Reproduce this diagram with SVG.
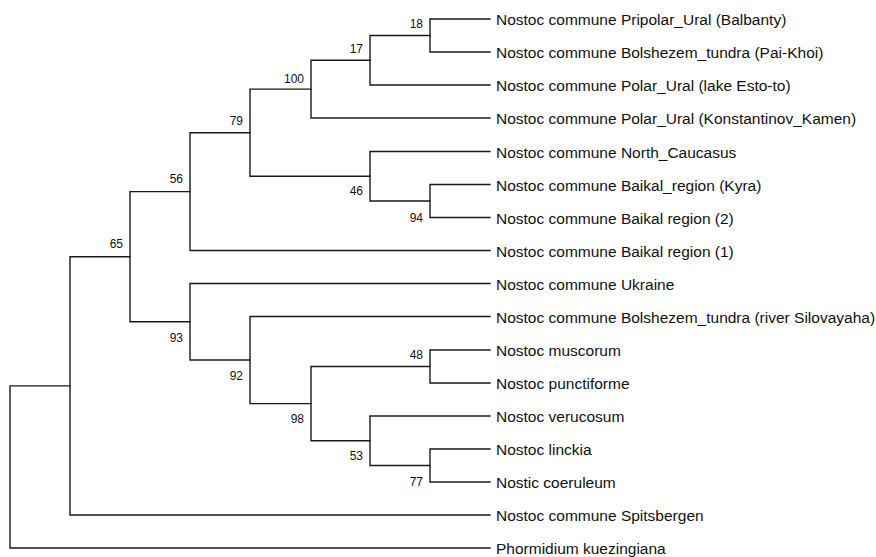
<svg xmlns="http://www.w3.org/2000/svg" width="876" height="557" viewBox="0 0 876 557">
<style>
.br{fill:none;stroke:#1a1a1a;stroke-width:1.4;stroke-linecap:square}
.leaf{font-family:"Liberation Sans",Arial,sans-serif;font-size:15.5px;fill:#111}
.bs{font-family:"Liberation Sans",Arial,sans-serif;font-size:12px;fill:#111;text-anchor:end}
</style>
<rect width="876" height="557" fill="#fff"/>
<g id="connectors">
<path class="br" d="M10,385.9V548M10,385.9H70M10,548H490"/>
<path class="br" d="M70,256.7V515M70,256.7H130M70,515H490"/>
<path class="br" d="M130,191.6V321.8M130,191.6H190M130,321.8H190"/>
<path class="br" d="M190,132.7V250.5M190,132.7H250M190,250.5H490"/>
<path class="br" d="M250,89.1V176.25M250,89.1H311M250,176.25H370"/>
<path class="br" d="M311,60.25V118M311,60.25H370M311,118H490"/>
<path class="br" d="M370,35.5V85M370,35.5H430M370,85H490"/>
<path class="br" d="M430,19V52M430,19H490M430,52H490"/>
<path class="br" d="M370,151.5V201M370,151.5H490M370,201H430"/>
<path class="br" d="M430,184.5V217.5M430,184.5H490M430,217.5H490"/>
<path class="br" d="M190,283.5V360M190,283.5H490M190,360H250"/>
<path class="br" d="M250,316.5V403.6M250,316.5H490M250,403.6H311"/>
<path class="br" d="M311,366.5V440.75M311,366.5H430M311,440.75H370"/>
<path class="br" d="M430,350V383M430,350H490M430,383H490"/>
<path class="br" d="M370,416V465.5M370,416H490M370,465.5H430"/>
<path class="br" d="M430,449V482M430,449H490M430,482H490"/>
</g>
<g id="bootstrap">
<g id="n18"><text class="bs" x="423" y="28">18</text></g>
<g id="n17"><text class="bs" x="363" y="53">17</text></g>
<g id="n100"><text class="bs" x="304" y="83">100</text></g>
<g id="n79"><text class="bs" x="243" y="125">79</text></g>
<g id="n56"><text class="bs" x="183" y="183">56</text></g>
<g id="n65"><text class="bs" x="123" y="248">65</text></g>
<g id="n46"><text class="bs" x="363" y="195">46</text></g>
<g id="n94"><text class="bs" x="423" y="222">94</text></g>
<g id="n93"><text class="bs" x="183" y="342">93</text></g>
<g id="n92"><text class="bs" x="243" y="380">92</text></g>
<g id="n98"><text class="bs" x="304" y="423">98</text></g>
<g id="n48"><text class="bs" x="423" y="359">48</text></g>
<g id="n53"><text class="bs" x="363" y="460">53</text></g>
<g id="n77"><text class="bs" x="423" y="486">77</text></g>
</g>
<g id="leaves">
<g id="leaf1"><text class="leaf" x="496" y="25">Nostoc commune Pripolar_Ural (Balbanty)</text></g>
<g id="leaf2"><text class="leaf" x="496" y="58">Nostoc commune Bolshezem_tundra (Pai-Khoi)</text></g>
<g id="leaf3"><text class="leaf" x="496" y="91">Nostoc commune Polar_Ural (lake Esto-to)</text></g>
<g id="leaf4"><text class="leaf" x="496" y="124">Nostoc commune Polar_Ural (Konstantinov_Kamen)</text></g>
<g id="leaf5"><text class="leaf" x="496" y="157.5">Nostoc commune North_Caucasus</text></g>
<g id="leaf6"><text class="leaf" x="496" y="190.5">Nostoc commune Baikal_region (Kyra)</text></g>
<g id="leaf7"><text class="leaf" x="496" y="223.5">Nostoc commune Baikal region (2)</text></g>
<g id="leaf8"><text class="leaf" x="496" y="256.5">Nostoc commune Baikal region (1)</text></g>
<g id="leaf9"><text class="leaf" x="496" y="289.5">Nostoc commune Ukraine</text></g>
<g id="leaf10"><text class="leaf" x="496" y="322.5">Nostoc commune Bolshezem_tundra (river Silovayaha)</text></g>
<g id="leaf11"><text class="leaf" x="496" y="356">Nostoc muscorum</text></g>
<g id="leaf12"><text class="leaf" x="496" y="389">Nostoc punctiforme</text></g>
<g id="leaf13"><text class="leaf" x="496" y="422">Nostoc verucosum</text></g>
<g id="leaf14"><text class="leaf" x="496" y="455">Nostoc linckia</text></g>
<g id="leaf15"><text class="leaf" x="496" y="488">Nostic coeruleum</text></g>
<g id="leaf16"><text class="leaf" x="496" y="521">Nostoc commune Spitsbergen</text></g>
<g id="leaf17"><text class="leaf" x="496" y="554">Phormidium kuezingiana</text></g>
</g>
</svg>
